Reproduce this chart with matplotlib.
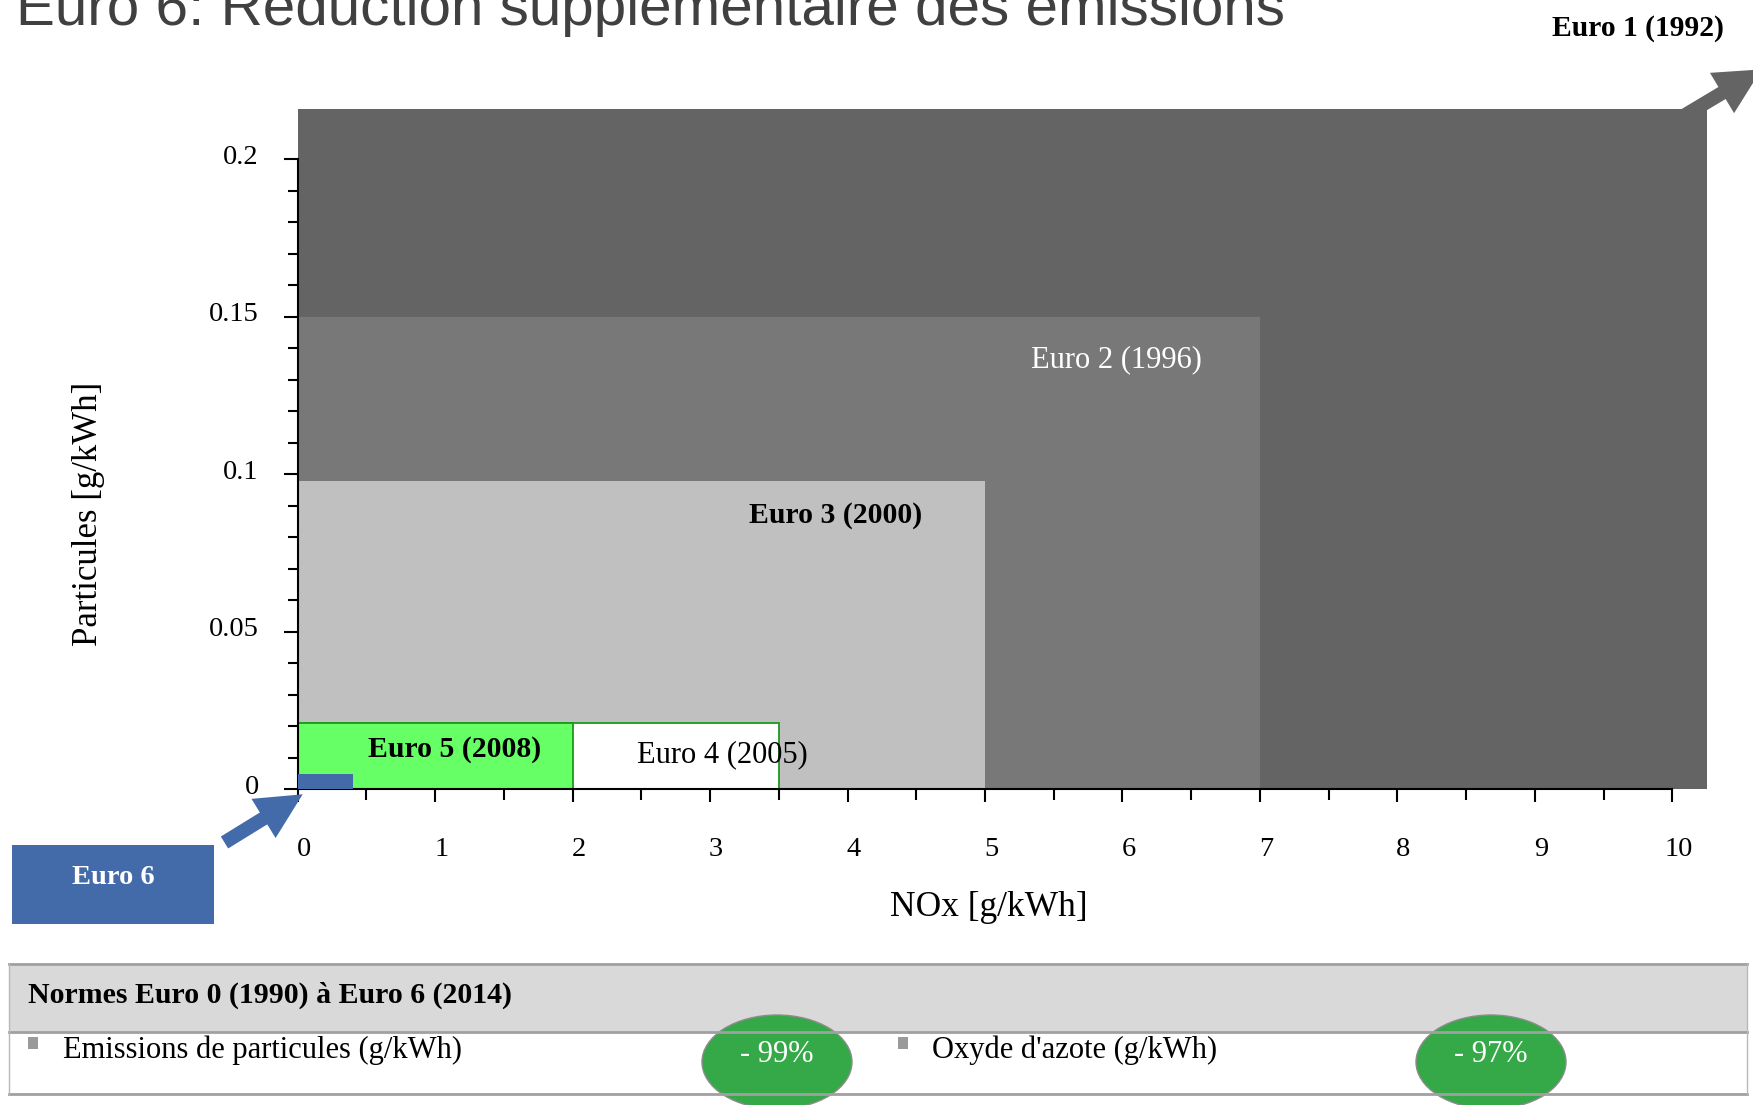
import numpy as np
import matplotlib
matplotlib.use("Agg")
import matplotlib.pyplot as plt
import matplotlib.patches as mpatches
import matplotlib.transforms as mtransforms
from matplotlib.lines import Line2D
from matplotlib.ticker import MultipleLocator, FixedLocator, FuncFormatter

plt.rcParams['font.family'] = ['Liberation Serif', 'DejaVu Serif']

# limits as drawn (NOx and particles in g/kWh); Euro 1 runs off the chart
norms = ['Euro 1 (1992)', 'Euro 2 (1996)', 'Euro 3 (2000)', 'Euro 4 (2005)', 'Euro 5 (2008)', 'Euro 6']
nox = [10.25, 7.0, 5.0, 3.5, 2.0, 0.4]
pm = [0.216, 0.15, 0.098, 0.021, 0.021, 0.005]

fills = ['#646464', '#787878', '#c0c0c0', '#ffffff', '#66ff66', '#436aa9']
edges = ['none', 'none', 'none', '#1a9a1a', '#1a9a1a', 'none']

table_title = "Normes Euro 0 (1990) à Euro 6 (2014)"
legend_items = ["Emissions de particules (g/kWh)", "Oxyde d'azote (g/kWh)"]
reductions = ["- 99%", "- 97%"]

W, H = 1753, 1105
fig = plt.figure(figsize=(W / 100, H / 100), dpi=100)
# pixel coords measured from the top-left corner
px = mtransforms.Affine2D().scale(1 / W, -1 / H).translate(0, 1) + fig.transFigure

ax = fig.add_axes([297.7 / W, (H - 789.3) / H, (1706.7 - 297.7) / W, (789.3 - 109) / H])
ax.set_xlim(0, 10.25)
ax.set_ylim(0, 0.216)

for i in range(len(norms)):
    ax.bar(0, pm[i], width=nox[i], align='edge', color=fills[i],
           edgecolor=edges[i], linewidth=1.3 if edges[i] != 'none' else 0,
           zorder=3 if i == 5 else 1, clip_on=False)

for s in ['top', 'right']:
    ax.spines[s].set_visible(False)
ax.spines['left'].set_bounds(0, 0.2)
ax.spines['bottom'].set_bounds(0, 10)
for s in ['left', 'bottom']:
    ax.spines[s].set_linewidth(1.5)

ax.xaxis.set_major_locator(MultipleLocator(1))
ax.xaxis.set_minor_locator(MultipleLocator(0.5))
ax.yaxis.set_major_locator(FixedLocator(np.arange(0, 0.2001, 0.05)))
ax.yaxis.set_minor_locator(FixedLocator(np.arange(0, 0.2001, 0.01)))
ax.yaxis.set_major_formatter(FuncFormatter(lambda v, _: f"{v:g}"))
ax.xaxis.set_major_formatter(FuncFormatter(lambda v, _: f"{v:g}"))

ax.tick_params(axis='both', which='both', direction='out', width=1.5, colors='black', labelsize=20.5)
ax.tick_params(axis='y', which='major', length=10, pad=18)
ax.tick_params(axis='y', which='minor', length=7)
ax.tick_params(axis='x', which='major', length=9, pad=25)
ax.tick_params(axis='x', which='minor', length=8)
shift = mtransforms.ScaledTranslation(0.06, 0, fig.dpi_scale_trans)
for lab in ax.get_xticklabels():
    lab.set_transform(lab.get_transform() + shift)
shift_y = mtransforms.ScaledTranslation(0, 0.05, fig.dpi_scale_trans)
for lab in ax.get_yticklabels():
    lab.set_transform(lab.get_transform() + shift_y)

ax.set_xlabel("NOx [g/kWh]", fontsize=25.5)
ax.set_ylabel("Particules [g/kWh]", fontsize=25)
ax.xaxis.set_label_coords(0.4906, -0.149)
ax.yaxis.set_label_coords(-0.137, 0.405)

# labels inside the rectangles
ax.text(5.956, 0.1363, norms[1], color='white', fontsize=22, ha='center', va='center')
ax.text(3.915, 0.0868, norms[2], color='black', fontsize=21.4, fontweight='bold', ha='center', va='center')
ax.text(3.087, 0.0110, norms[3], color='black', fontsize=22, ha='center', va='center', zorder=4)
ax.text(1.144, 0.0125, norms[4], color='black', fontsize=21.4, fontweight='bold', ha='center', va='center', zorder=4)

# title, cut at the top edge
fig.text(16 / W, 1 - 25 / H, "Euro 6: Réduction supplémentaire des émissions",
         family='Liberation Sans', fontsize=42, color='#404040', va='baseline', ha='left')

# Euro 1 label and arrow leaving the chart
fig.text(1638, 28, norms[0], transform=px, fontsize=21.3, fontweight='bold', ha='center', va='center')
fig.add_artist(mpatches.FancyArrow(1670.5, 123.8, 91, -54.4, width=14, head_width=47, head_length=46,
                                   length_includes_head=True, transform=px, color='#646464', lw=0))

# Euro 6 box and arrow to the origin
fig.add_artist(mpatches.Rectangle((12, 845), 202, 79, transform=px, color='#436aa9', lw=0))
fig.text(113, 877, norms[5], transform=px, color='white', fontsize=20.5, fontweight='bold', ha='center', va='center')
fig.add_artist(mpatches.FancyArrow(224.5, 842.5, 78.2, -48.2, width=14, head_width=46, head_length=46,
                                   length_includes_head=True, transform=px, color='#436aa9', lw=0))

# legend table at the bottom
fig.add_artist(mpatches.Rectangle((9, 964), 1738, 68, transform=px, color='#d9d9d9', lw=0))
for yy in [964, 1032, 1094]:
    fig.add_artist(Line2D([9, 1747], [yy, yy], transform=px, color='#a0a0a0', lw=2))
for xx in [9, 1747]:
    fig.add_artist(Line2D([xx, xx], [964, 1094], transform=px, color='#b8b8b8', lw=1))
fig.text(28, 995, table_title, transform=px, fontsize=21.5, fontweight='bold', ha='left', va='center')

for bx, tx, ex, item, red in zip([28, 898], [63, 932], [777, 1491], legend_items, reductions):
    fig.add_artist(mpatches.Rectangle((bx, 1037), 10, 12, transform=px, color='#9a9a9a', lw=0))
    fig.text(tx, 1050, item, transform=px, fontsize=22, ha='left', va='center')
    fig.add_artist(mpatches.Ellipse((ex, 1062), 150, 94, transform=px, facecolor='#35a947',
                                    edgecolor='#8c8c8c', lw=1))
    fig.text(ex, 1055, red, transform=px, color='white', fontsize=22, ha='center', va='center')

fig.savefig("out.png", dpi=100)
